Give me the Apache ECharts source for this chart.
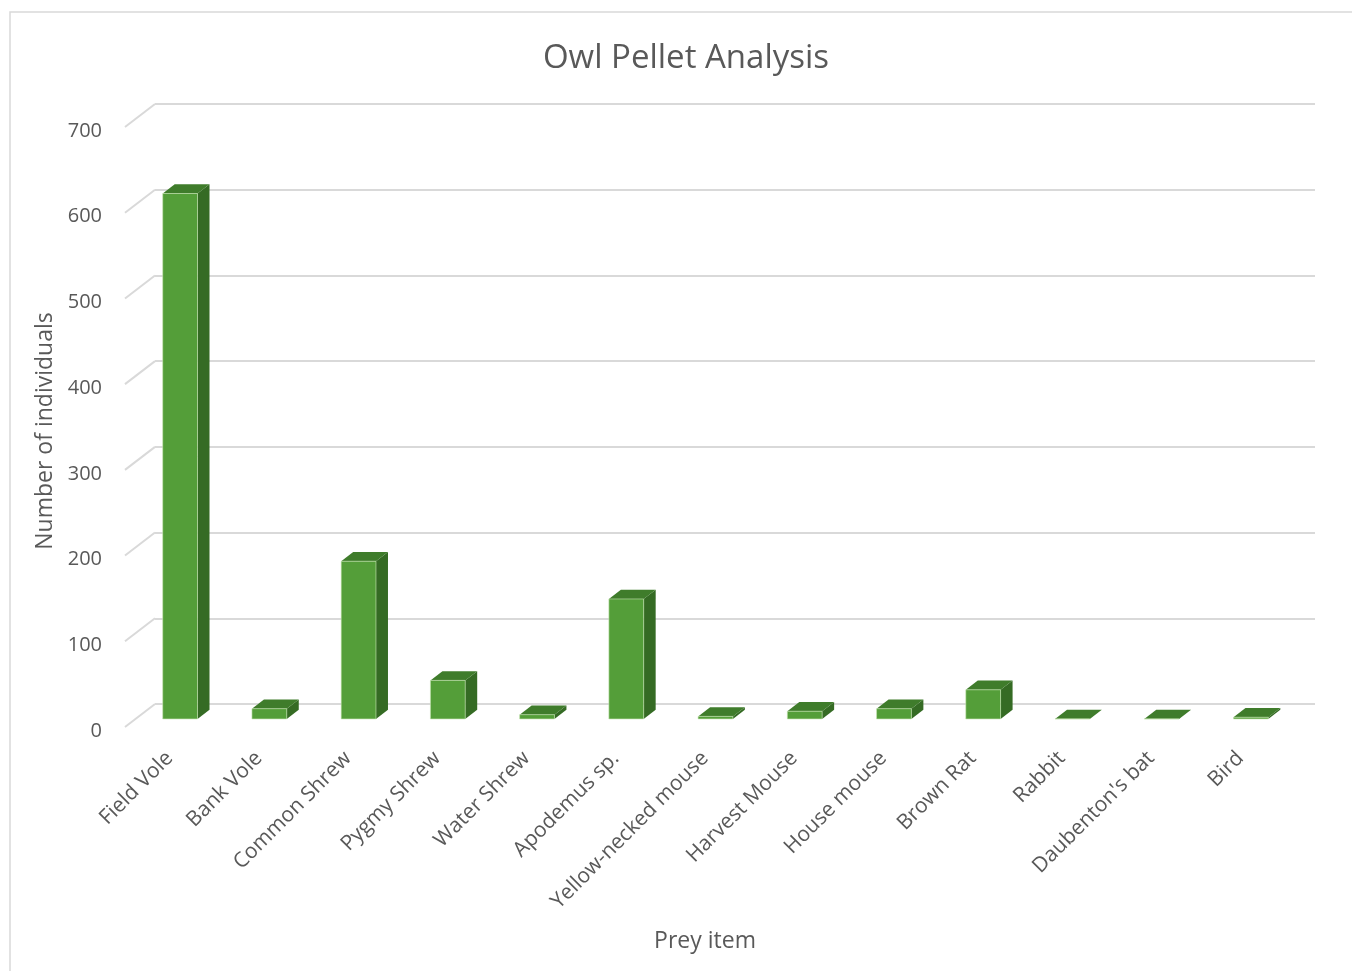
<!DOCTYPE html>
<html>
<head>
<meta charset="utf-8">
<script src="https://cdn.jsdelivr.net/npm/echarts@6/dist/echarts.min.js"></script>
<style>
  html, body { margin: 0; padding: 0; background: #fff; }
  #chart { width: 1352px; height: 971px; }
</style>
</head>
<body>
<div id="chart"></div>
<script>
const categories = [
  "Field Vole", "Bank Vole", "Common Shrew", "Pygmy Shrew", "Water Shrew",
  "Apodemus sp.", "Yellow-necked mouse", "Harvest Mouse", "House mouse",
  "Brown Rat", "Rabbit", "Daubenton's bat", "Bird"
];
const counts = [613, 12, 184, 45, 5, 140, 3, 9, 12, 34, 0, 0, 2];
const yTicks = [0, 100, 200, 300, 400, 500, 600, 700];

// 3D floor depth (front plane is shifted left/down from the back wall)
const DEPTH_X = 30;
const DEPTH_Y = 23;
const FONT = "Open Sans";
const TEXT = "#595959";

const chart = echarts.init(document.getElementById("chart"));

function renderBar(params, api) {
  const i = api.value(0);
  const top = api.coord([i, api.value(1)]);
  const base = api.coord([i, 0]);
  const band = api.size([1, 0])[0];
  const w = band * 0.39;
  // front face sits 35% into the depth, bar is 40% deep
  const cx = top[0] - DEPTH_X * 0.65;
  const yt = top[1] + DEPTH_Y * 0.65;
  const yb = base[1] + DEPTH_Y * 0.65;
  const x0 = cx - w / 2, x1 = cx + w / 2;
  const sx = DEPTH_X * 0.4, sy = DEPTH_Y * 0.4;
  return {
    type: "group",
    children: [
      {
        type: "polygon",
        shape: { points: [[x1, yt], [x1 + sx, yt - sy], [x1 + sx, yb - sy], [x1, yb]] },
        style: { fill: "#356b24" }
      },
      {
        type: "polygon",
        shape: { points: [[x0, yt], [x1, yt], [x1 + sx, yt - sy], [x0 + sx, yt - sy]] },
        style: { fill: "#3f7c2b" }
      },
      {
        type: "rect",
        shape: { x: x0, y: yt, width: w, height: yb - yt },
        style: { fill: "#549e39", stroke: "rgba(200,230,180,0.6)", lineWidth: 1 }
      }
    ]
  };
}

function renderDiag(params, api) {
  const p = api.coord([0, api.value(1)]);
  const left = p[0] - api.size([1, 0])[0] / 2;
  return {
    type: "line",
    shape: { x1: left - DEPTH_X, y1: p[1] + DEPTH_Y, x2: left, y2: p[1] },
    style: { stroke: "#d9d9d9", lineWidth: 2 }
  };
}

const option = {
  backgroundColor: "#fff",
  animation: false,
  title: {
    text: "Owl Pellet Analysis",
    left: 681,
    top: 37,
    textAlign: "center",
    textStyle: { fontFamily: FONT, fontSize: 33, fontWeight: "normal", color: TEXT }
  },
  graphic: [
    {
      type: "rect",
      shape: { x: 10, y: 12, width: 1400, height: 1000 },
      style: { fill: "none", stroke: "#d9d9d9", lineWidth: 1.5 },
      silent: true
    }
  ],
  grid: [
    { left: 155, right: 37, top: 104, bottom: 267 },   // back wall
    { left: 125, right: 67, top: 131, bottom: 240 }    // front plane (labels)
  ],
  xAxis: [
    {
      gridIndex: 0,
      type: "category",
      data: categories,
      axisLine: { show: false },
      axisTick: { show: false },
      axisLabel: { show: false }
    },
    {
      gridIndex: 1,
      type: "category",
      data: categories,
      name: "Prey item",
      nameLocation: "middle",
      nameGap: 199,
      nameTextStyle: { fontFamily: FONT, fontSize: 23, color: TEXT },
      axisLine: { show: false },
      axisTick: { show: false },
      axisLabel: {
        rotate: 45,
        margin: 24,
        interval: 0,
        fontFamily: FONT,
        fontSize: 21,
        color: TEXT
      }
    }
  ],
  yAxis: [
    {
      gridIndex: 0,
      type: "value",
      min: 0,
      max: 700,
      interval: 100,
      axisLine: { show: false },
      axisTick: { show: false },
      axisLabel: { show: false },
      splitLine: { lineStyle: { color: "#d9d9d9", width: 2 } }
    },
    {
      gridIndex: 1,
      type: "value",
      min: 0,
      max: 700,
      interval: 100,
      name: "Number of individuals",
      nameLocation: "middle",
      nameGap: 56,
      nameTextStyle: { fontFamily: FONT, fontSize: 23, color: TEXT },
      axisLine: { show: false },
      axisTick: { show: false },
      splitLine: { show: false },
      axisLabel: { margin: 23, fontFamily: FONT, fontSize: 20, color: TEXT }
    }
  ],
  series: [
    {
      type: "custom",
      xAxisIndex: 0,
      yAxisIndex: 0,
      clip: false,
      renderItem: renderDiag,
      data: yTicks.map(v => [0, v])
    },
    {
      type: "custom",
      xAxisIndex: 0,
      yAxisIndex: 0,
      clip: false,
      renderItem: renderBar,
      data: counts.map((v, i) => [i, v])
    }
  ]
};

chart.setOption(option);
</script>
</body>
</html>
